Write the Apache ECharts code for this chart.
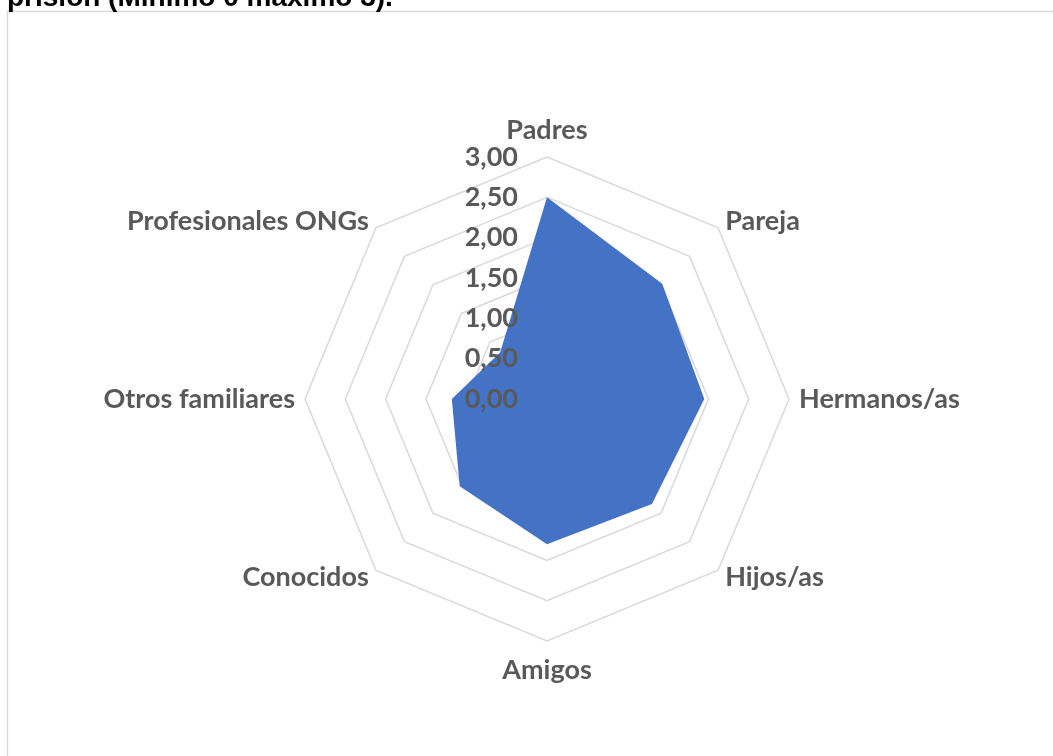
<!DOCTYPE html>
<html><head><meta charset="utf-8">
<script src="https://cdn.jsdelivr.net/npm/echarts@6/dist/echarts.min.js"></script>
<style>html,body{margin:0;padding:0;background:#fff}#c{width:1053px;height:756px}</style>
</head><body><div id="c"></div>
<script>
const categories = ['Padres','Pareja','Hermanos/as','Hijos/as','Amigos','Conocidos','Otros familiares','Profesionales ONGs'];
const values = [2.5, 2.02, 1.95, 1.84, 1.80, 1.53, 1.18, 0.82];
const tickLabels = ['0,00','0,50','1,00','1,50','2,00','2,50','3,00'];
const titleText = 'prisión (Mínimo 0 máximo 3).';

// ECharts places radar indicators counter-clockwise; reorder so the chart reads clockwise
const order = [0,7,6,5,4,3,2,1];
const ind = order.map(i => ({name: categories[i], min: 0, max: 3}));
const vals = order.map(i => values[i]);

const txt = {color:'#595959', fontWeight:'bold', fontSize:27, fontFamily:'Lato'};
const chart = echarts.init(document.getElementById('c'), null, {renderer:'canvas'});
chart.setOption({
  animation:false,
  graphic:[
    {type:'rect', shape:{x:7.5,y:11.5,width:1100,height:800}, style:{fill:'none',stroke:'#d9d9d9',lineWidth:1.5}, z:0},
    {type:'text', x:7, y:-2, style:{text:titleText, font:'bold 28px "Liberation Sans"', fill:'#000', verticalAlign:'middle'}, z:100}
  ],
  radar:{
    center:[547,399], radius:242, startAngle:90, shape:'polygon', splitNumber:6,
    indicator: ind,
    axisName: Object.assign({
      formatter:(n)=> n===categories[0] ? '{top|'+n+'}' : (n===categories[4] ? '{bot|'+n+'}' : n),
      rich:{top:Object.assign({padding:[0,0,3,0]}, txt), bot:Object.assign({padding:[6,0,0,0]}, txt)}
    }, txt),
    nameGap: 10,
    splitLine:{lineStyle:{color:'#d9d9d9', width:1.5}},
    splitArea:{show:false},
    axisLine:{show:false},
    axisTick:{show:false},
    axisLabel:{show:false}
  },
  polar:{center:[547,399], radius:242},
  angleAxis:{type:'value', min:0, max:360, startAngle:90, show:false},
  radiusAxis:{type:'value', min:0, max:3, interval:0.5, z:10,
    axisLine:{show:false}, axisTick:{show:false}, splitLine:{show:false},
    axisLabel:Object.assign({margin:29, formatter:(v)=>tickLabels[Math.round(v/0.5)]}, txt)},
  series:[
    {type:'radar', symbol:'none', lineStyle:{width:0, color:'#4472c4'}, areaStyle:{color:'#4472c4', opacity:1},
     data:[{value: vals}]},
    {type:'scatter', coordinateSystem:'polar', data:[], silent:true}
  ]
});
</script></body></html>
